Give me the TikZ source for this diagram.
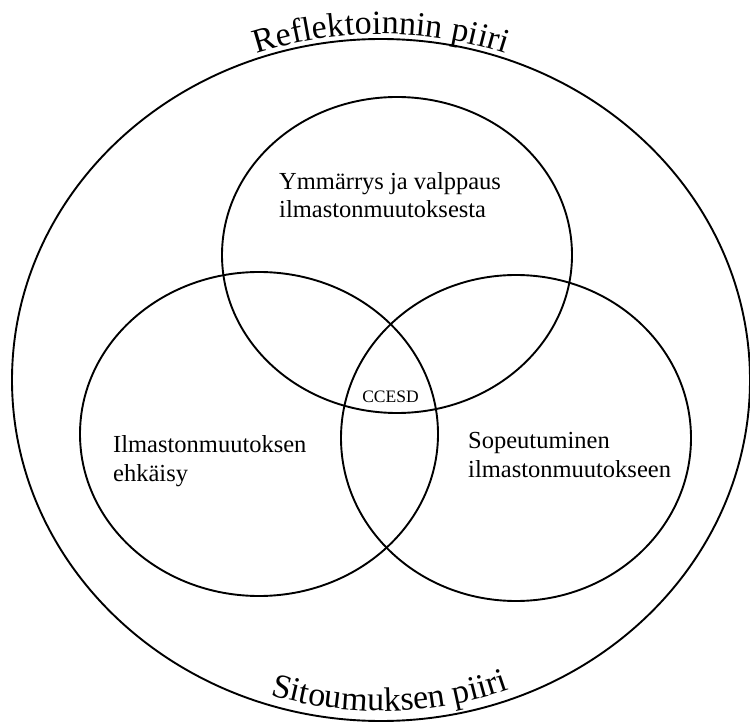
\documentclass[tikz,border=0pt]{standalone}
\usepackage{fontspec}
\setmainfont{Liberation Serif}
\usetikzlibrary{decorations.text,shapes.geometric}
\newcommand\rpfont{\fontsize{34}{38}\selectfont}
\begin{document}
\begin{tikzpicture}[x=1pt,y=1pt,
  ring/.style={draw, line width=1.9pt, ellipse, inner sep=0pt, outer sep=0pt},
  lbl/.style={anchor=base west, inner sep=0pt, font=\fontsize{24.5}{28}\selectfont},
  small/.style={anchor=base, inner sep=0pt, font=\fontsize{17.5}{20}\selectfont}
]
\useasboundingbox (0,0) rectangle (750,724);
\node[ring, minimum width=738pt, minimum height=682pt] (outer) at (381,344) {};
\node[ring, minimum width=350pt, minimum height=316pt] (topc) at (397,469) {};
\node[ring, minimum width=358pt, minimum height=324pt] (leftc) at (259,290) {};
\node[ring, minimum width=350pt, minimum height=326pt] (rightc) at (516,286) {};

\path[decorate, decoration={text along path, text={|\rpfont|Reflektoinnin piiri}, text align=center}]
  (166.48,627.43) arc[start angle=125, end angle=55, x radius=374, y radius=346];
\path[decorate, decoration={text along path, text={|\rpfont|Sitoumuksen piiri}, text align=center}]
  (182.85,67.98) arc[start angle=236.5, end angle=306.5, x radius=359, y radius=331];

\node[lbl] (t1) at (279,534) {Ymmärrys ja valppaus};
\node[lbl] (t2) at (279,506) {ilmastonmuutoksesta};
\node[lbl] (l1) at (113,272) {Ilmastonmuutoksen};
\node[lbl] (l2) at (113,243) {ehkäisy};
\node[lbl] (r1) at (468,276) {Sopeutuminen};
\node[lbl] (r2) at (468,247) {ilmastonmuutokseen};
\node[small] (c) at (390.5,321) {CCESD};
\end{tikzpicture}
\end{document}
